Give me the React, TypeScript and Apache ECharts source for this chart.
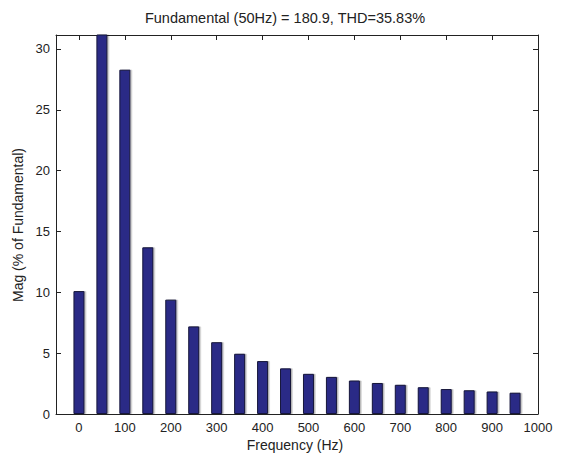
import React, { useEffect, useRef } from "react";
import * as echarts from "echarts";

const frequencies = [0, 50, 100, 150, 200, 250, 300, 350, 400, 450, 500, 550, 600, 650, 700, 750, 800, 850, 900, 950];
const magnitudes = [10.1, 100, 28.3, 13.7, 9.4, 7.2, 5.9, 4.95, 4.35, 3.75, 3.3, 3.05, 2.75, 2.55, 2.4, 2.2, 2.05, 1.95, 1.85, 1.75];
const xTicks = [0, 100, 200, 300, 400, 500, 600, 700, 800, 900, 1000];
const yTicks = [0, 5, 10, 15, 20, 25, 30];
const titleText = "Fundamental (50Hz) = 180.9, THD=35.83%";
const xName = "Frequency (Hz)";
const yName = "Mag (% of Fundamental)";

const FONT = "'Liberation Sans', Arial, Helvetica, sans-serif";
const AXIS_COLOR = "#222";

export default function App() {
  const ref = useRef<HTMLDivElement>(null);
  useEffect(() => {
    if (!ref.current) return;
    const chart = echarts.init(ref.current, undefined, { renderer: "svg" });
    const xMin = -50, xMax = 1000, yMin = 0, yMax = 31.15;
    const tick = { show: true, inside: true, length: 5, lineStyle: { color: AXIS_COLOR, width: 1 } };
    const plain = (v: number) => String(v);
    chart.setOption({
      animation: false,
      backgroundColor: "#fff",
      grid: { left: 56, top: 35, right: 25, bottom: 43, containLabel: false },
      xAxis: [
        {
          type: "value", position: "bottom", min: xMin, max: xMax,
          axisLine: { show: true, onZero: false, lineStyle: { color: AXIS_COLOR, width: 1 } },
          axisTick: { ...tick, customValues: xTicks },
          axisLabel: { customValues: xTicks, formatter: plain, color: "#222", fontSize: 13, fontFamily: FONT, margin: 7 },
          splitLine: { show: false },
        },
        {
          type: "value", position: "top", min: xMin, max: xMax,
          axisLine: { show: true, onZero: false, lineStyle: { color: AXIS_COLOR, width: 1 } },
          axisTick: { ...tick, customValues: xTicks },
          axisLabel: { show: false },
          splitLine: { show: false },
        },
      ],
      yAxis: [
        {
          type: "value", position: "left", min: yMin, max: yMax,
          axisLine: { show: true, onZero: false, lineStyle: { color: AXIS_COLOR, width: 1 } },
          axisTick: { ...tick, customValues: yTicks },
          axisLabel: { customValues: yTicks, formatter: plain, color: "#222", fontSize: 13, fontFamily: FONT, margin: 6 },
          splitLine: { show: false },
        },
        {
          type: "value", position: "right", min: yMin, max: yMax,
          axisLine: { show: true, onZero: false, lineStyle: { color: AXIS_COLOR, width: 1 } },
          axisTick: { ...tick, customValues: yTicks },
          axisLabel: { show: false },
          splitLine: { show: false },
        },
      ],
      series: [
        {
          type: "bar",
          xAxisIndex: 0,
          yAxisIndex: 0,
          clip: true,
          barWidth: 11,
          data: frequencies.map((f, i) => [f, magnitudes[i]]),
          itemStyle: {
            color: "#2a2c86",
            borderColor: "#15153a",
            borderWidth: 1,
            shadowColor: "rgba(0,0,0,0.28)",
            shadowOffsetX: 1.5,
            shadowOffsetY: 0,
            shadowBlur: 0,
          },
        },
      ],
      graphic: [
        {
          type: "text", x: 285, y: 18,
          style: { text: titleText, textAlign: "center", textVerticalAlign: "middle", font: `14.5px ${FONT}`, fill: "#222" },
        },
        {
          type: "text", x: 295, y: 445,
          style: { text: xName, textAlign: "center", textVerticalAlign: "middle", font: `14px ${FONT}`, fill: "#222" },
        },
        {
          type: "text", x: 18, y: 225, rotation: Math.PI / 2,
          style: { text: yName, textAlign: "center", textVerticalAlign: "middle", font: `14px ${FONT}`, fill: "#222" },
        },
      ],
    });
    return () => chart.dispose();
  }, []);
  return <div ref={ref} style={{ width: 563, height: 457, position: "absolute", left: 0, top: 0 }} />;
}
